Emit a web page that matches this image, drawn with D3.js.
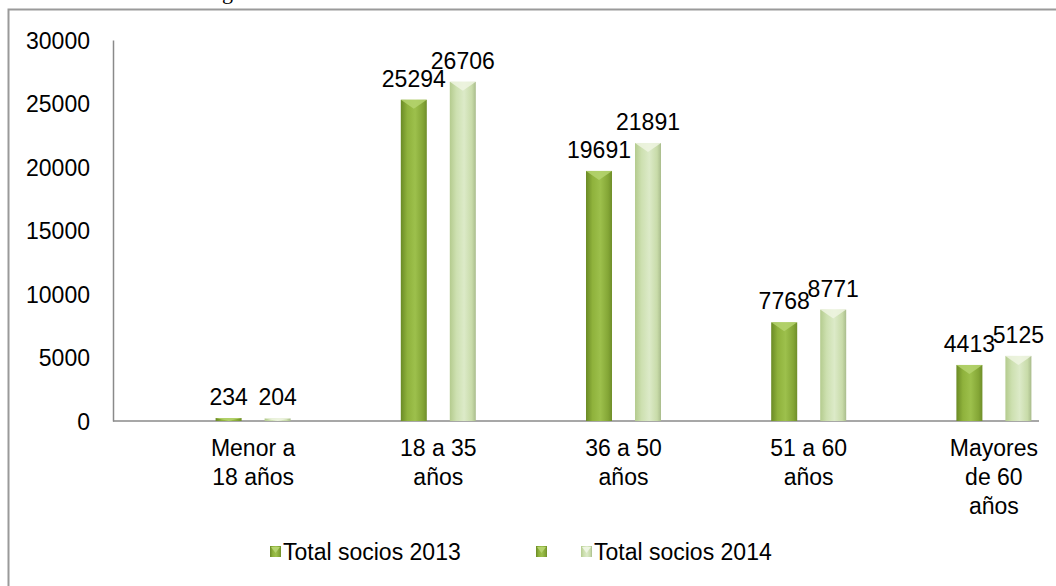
<!DOCTYPE html>
<html><head><meta charset="utf-8">
<script src="https://cdn.jsdelivr.net/npm/d3@7"></script>
<style>html,body{margin:0;padding:0;background:#fff;overflow:hidden}</style>
</head><body>
<svg id="chart" width="1056" height="586"></svg>
<script>
const categories = [["Menor a","18 años"],["18 a 35","años"],["36 a 50","años"],["51 a 60","años"],["Mayores","de 60","años"]];
const catKeys = ["Menor a 18 años","18 a 35 años","36 a 50 años","51 a 60 años","Mayores de 60 años"];
const seriesNames = ["Total socios 2013","Total socios 2014"];
const legendNames = ["Total socios 2013","","Total socios 2014"];
const values2013 = [234,25294,19691,7768,4413];
const values2014 = [204,26706,21891,8771,5125];
const yTicks = [0,5000,10000,15000,20000,25000,30000];

const svg = d3.select("#chart");
const font = "'Liberation Sans', Arial, sans-serif";
const fs = 23;
const defs = svg.append("defs");
function grad(id, stops){
  const g = defs.append("linearGradient").attr("id",id).attr("x1","0").attr("x2","1").attr("y1","0").attr("y2","0");
  stops.forEach(s=>g.append("stop").attr("offset",s[0]).attr("stop-color",s[1]));
}
grad("g13",[[0,"#6a8a25"],[0.25,"#8fb23c"],[0.55,"#9dc04c"],[0.85,"#84a636"],[1,"#6f8e2a"]]);
grad("g14",[[0,"#b4cb8e"],[0.25,"#cde0b0"],[0.55,"#dceac8"],[0.85,"#c8dba9"],[1,"#a9bc8c"]]);
const fills = ["url(#g13)","url(#g14)"];
const capFill = ["#b5d36e","#eef5e2"];

// border
svg.append("rect").attr("x",8.5).attr("y",9.5).attr("width",1100).attr("height",650)
  .attr("fill","none").attr("stroke","#9a9a9a").attr("stroke-width",2);
svg.append("text").attr("x",222).attr("y",-1).attr("font-family","'Liberation Serif', serif")
  .attr("font-size",22).text("g");

const plotLeft = 113, plotRight = 1039;
const y = d3.scaleLinear().domain([0,30000]).range([421,40]);
const x = d3.scaleBand().domain(catKeys).range([160.5,1086.5]);
const xs = d3.scaleBand().domain(seriesNames).range([-49,49]);
const barW = 26;

// y axis
const yAxis = svg.append("g").attr("transform",`translate(${plotLeft},0)`)
  .call(d3.axisLeft(y).tickValues(yTicks).tickSize(0).tickPadding(23).tickFormat(d3.format("d")));
yAxis.select(".domain").attr("stroke","#8a8a8a").attr("stroke-width",1.5);
yAxis.selectAll("text").attr("font-family",font).attr("font-size",fs).attr("fill","#000").attr("dy","0.35em");

// x axis line
svg.append("line").attr("x1",plotLeft).attr("x2",plotRight).attr("y1",y(0)).attr("y2",y(0))
  .attr("stroke","#8a8a8a").attr("stroke-width",1.5);

// bars
const data = catKeys.map((c,i)=>({cat:c, vals:[values2013[i],values2014[i]]}));
const groups = svg.append("g").selectAll("g").data(data).join("g")
  .attr("transform",d=>`translate(${x(d.cat)+x.bandwidth()/2},0)`);
groups.each(function(d){
  const g = d3.select(this);
  d.vals.forEach((v,si)=>{
    const cx = xs(seriesNames[si]) + xs.bandwidth()/2;
    const x0 = cx - barW/2, top = y(v), h = y(0)-y(v);
    g.append("rect").attr("x",x0).attr("y",top).attr("width",barW).attr("height",h).attr("fill",fills[si]);
    const capH = Math.min(9, h);
    g.append("path").attr("d",`M${x0},${top}L${x0+barW},${top}L${cx},${top+capH}Z`)
      .attr("fill",capFill[si]).attr("opacity",0.85);
    g.append("text").attr("x",cx).attr("y",top-13).attr("text-anchor","middle")
      .attr("font-family",font).attr("font-size",fs).attr("fill","#000").text(v);
  });
});

// category labels
categories.forEach((lines,i)=>{
  const t = svg.append("text").attr("x",x(catKeys[i])+x.bandwidth()/2).attr("y",456)
    .attr("text-anchor","middle").attr("font-family",font).attr("font-size",fs).attr("fill","#000");
  lines.forEach((l,j)=>t.append("tspan").attr("x",x(catKeys[i])+x.bandwidth()/2).attr("dy",j?29:0).text(l));
});

// legend
const legX = [270, 536, 581];
const legFill = ["url(#g13)","url(#g13)","url(#g14)"];
legendNames.forEach((n,i)=>{
  svg.append("rect").attr("x",legX[i]).attr("y",546).attr("width",11).attr("height",11).attr("fill",legFill[i]);
  svg.append("path").attr("d",`M${legX[i]+1},${547}L${legX[i]+10},${547}L${legX[i]+5.5},${553}Z`).attr("fill",capFill[i===2?1:0]);
  if(n) svg.append("text").attr("x",legX[i]+13).attr("y",560).attr("font-family",font).attr("font-size",fs).attr("fill","#000").text(n);
});
</script>
</body></html>
